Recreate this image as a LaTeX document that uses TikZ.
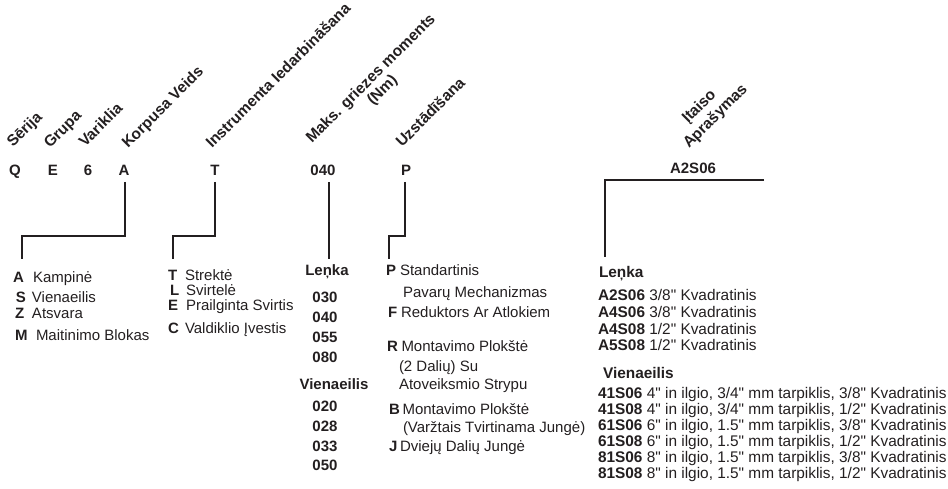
\documentclass[tikz,border=0pt]{standalone}
\usepackage{fontspec}
\setmainfont{Liberation Sans}
\newfontfamily\lsans{Liberation Sans}
\usetikzlibrary{calc}
\definecolor{ink}{HTML}{231F20}
\newcommand{\myentry}[3]{\makebox[#1][l]{\bfseries #2}#3}
\begin{document}
\begin{tikzpicture}[x=1pt,y=-1pt,
  every node/.style={inner sep=0pt, outer sep=0pt, text=ink, font=\lsans\fontsize{15}{17}\selectfont},
  lbl/.style={anchor=base west, rotate=45, font=\lsans\fontsize{15.5}{17}\selectfont\bfseries},
  code/.style={anchor=base, font=\lsans\fontsize{15}{17}\selectfont\bfseries},
  item/.style={anchor=base west},
  ritem/.style={anchor=base west, font=\lsans\fontsize{15.4}{17}\selectfont},
  colhead/.style={anchor=base, font=\lsans\fontsize{15}{17}\selectfont\bfseries},
  conn/.style={draw=ink, line width=1.8pt}]
\useasboundingbox (0,0) rectangle (948,489);

% rotated headings
\node[lbl] (hS) at (13,148) {Sērija};
\node[lbl] (hG) at (50,149) {Grupa};
\node[lbl] (hV) at (85,148) {Variklia};
\node[lbl] (hK) at (128,149) {Korpusa Veids};
\node[lbl] (hI) at (212,149) {Instrumenta Iedarbināšana};
\node[lbl] (hM) at (312,144) {Maks. griezes moments};
\node[lbl] (hN) at (373,106) {(Nm)};
\node[lbl] (hU) at (402,148) {Uzstādīšana};
\node[lbl] (hT1) at (688,124) {Įtaiso};
\node[lbl] (hT2) at (689,149) {Aprašymas};

% code row
\node[code] (cQ) at (15,176) {Q};
\node[code] (cE) at (53,176) {E};
\node[code] (c6) at (88,176) {6};
\node[code] (cA) at (124,176) {A};
\node[code] (cT) at (215,176) {T};
\node[code] (c040) at (323,176) {040};
\node[code] (cP) at (406,176) {P};
\node[code] (cA2) at (693,174) {A2S06};

% connectors
\coordinate (kA1) at (22,236); \coordinate (kA2) at (22,259);
\coordinate (kT1) at (173,236); \coordinate (kT2) at (173,259);
\coordinate (kM2) at (329,259);
\coordinate (kP1) at (389,236); \coordinate (kP2) at (389,259);
\coordinate (kR1) at (764,180); \coordinate (kR2) at (605,257);
\draw[conn] ([xshift=1pt,yshift=-6pt]cA.south) |- (kA1) -- (kA2);
\draw[conn] ([yshift=-6pt]cT.south) |- (kT1) -- (kT2);
\draw[conn] ([xshift=6pt,yshift=-6pt]c040.south) -- (kM2);
\draw[conn] ([xshift=-1pt,yshift=-6pt]cP.south) |- (kP1) -- (kP2);
\draw[conn] (kR1) -| (kR2);

% Korpusa Veids options
\node[item] (a1) at (13,282) {\myentry{20pt}{A}{Kampinė}};
\node[item] (a2) at (16,302) {\myentry{16pt}{S}{Vienaeilis}};
\node[item] (a3) at (15,318) {\myentry{17pt}{Z}{Atsvara}};
\node[item] (a4) at (15,340) {\myentry{21pt}{M}{Maitinimo Blokas}};

% Instrumenta options
\node[item] (t1) at (168,280) {\myentry{17pt}{T}{Strektė}};
\node[item] (t2) at (170,295) {\myentry{16pt}{L}{Svirtelė}};
\node[item] (t3) at (168,310) {\myentry{18pt}{E}{Prailginta Svirtis}};
\node[item] (t4) at (168,333) {\myentry{17pt}{C}{Valdiklio Įvestis}};

% torque column
\node[colhead] (m0) at (327,276) {Leņka};
\node[colhead] (m1) at (325,302) {030};
\node[colhead] (m2) at (325,322) {040};
\node[colhead] (m3) at (325,342) {055};
\node[colhead] (m4) at (325,362) {080};
\node[colhead] (m5) at (334,389) {Vienaeilis};
\node[colhead] (m6) at (325,411) {020};
\node[colhead] (m7) at (325,431) {028};
\node[colhead] (m8) at (325,451) {033};
\node[colhead] (m9) at (325,470) {050};

% mounting options
\node[item] (p1) at (386,276) {\myentry{14pt}{P}{Standartinis}};
\node[item] (p1b) at (403,297) {Pavarų Mechanizmas};
\node[item] (p2) at (388,317) {\myentry{13pt}{F}{Reduktors Ar Atlokiem}};
\node[item] (p3) at (387,351) {\myentry{14.5pt}{R}{Montavimo Plokštė}};
\node[item] (p3b) at (399,371) {(2 Dalių) Su};
\node[item] (p3c) at (399,389) {Atoveiksmio Strypu};
\node[item] (p4) at (389,414) {\myentry{13.5pt}{B}{Montavimo Plokštė}};
\node[item] (p4b) at (403,432) {(Varžtais Tvirtinama Jungė)};
\node[item] (p5) at (389,451) {\myentry{11pt}{J}{Dviejų Dalių Jungė}};

% device description column
\node[ritem, font=\lsans\fontsize{15.4}{17}\selectfont\bfseries] (r0) at (599,277) {Leņka};
\node[ritem] (r1) at (598,301) {\textbf{A2S06} 3/8" Kvadratinis};
\node[ritem] (r2) at (598,317.5) {\textbf{A4S06} 3/8" Kvadratinis};
\node[ritem] (r3) at (598,334) {\textbf{A4S08} 1/2" Kvadratinis};
\node[ritem] (r4) at (598,350.5) {\textbf{A5S08} 1/2" Kvadratinis};
\node[ritem, font=\lsans\fontsize{15.4}{17}\selectfont\bfseries] (r5) at (603,378) {Vienaeilis};
\node[ritem] (r6) at (598,398) {\textbf{41S06} 4" in ilgio, 3/4" mm tarpiklis, 3/8" Kvadratinis};
\node[ritem] (r7) at (598,414) {\textbf{41S08} 4" in ilgio, 3/4" mm tarpiklis, 1/2" Kvadratinis};
\node[ritem] (r8) at (598,430) {\textbf{61S06} 6" in ilgio, 1.5" mm tarpiklis, 3/8" Kvadratinis};
\node[ritem] (r9) at (598,446) {\textbf{61S08} 6" in ilgio, 1.5" mm tarpiklis, 1/2" Kvadratinis};
\node[ritem] (r10) at (598,462) {\textbf{81S06} 8" in ilgio, 1.5" mm tarpiklis, 3/8" Kvadratinis};
\node[ritem] (r11) at (598,478) {\textbf{81S08} 8" in ilgio, 1.5" mm tarpiklis, 1/2" Kvadratinis};
\end{tikzpicture}
\end{document}
